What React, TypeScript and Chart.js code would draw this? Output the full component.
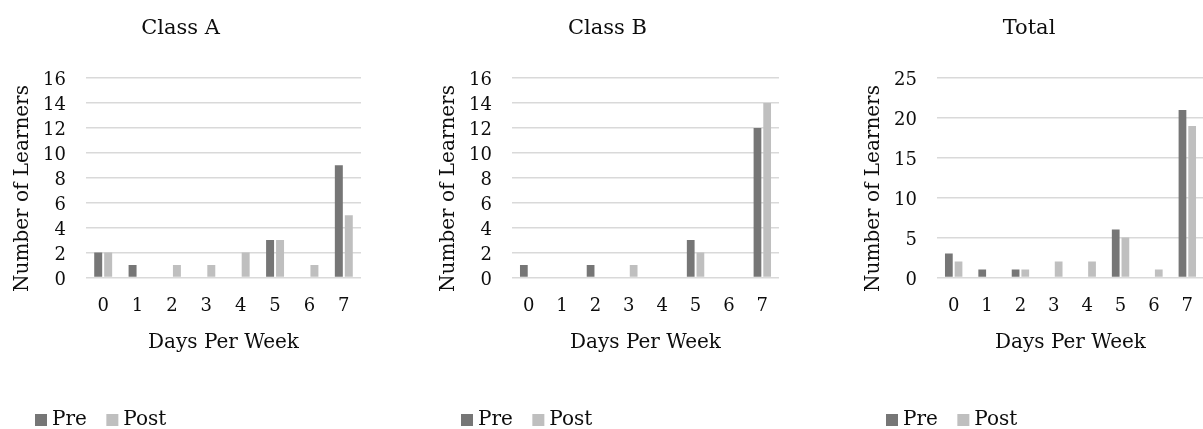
import React, { useEffect, useRef } from 'react';
import { Chart, registerables } from 'chart.js';

Chart.register(...registerables);

// Days per week categories shared by all three panels
const days = ['0', '1', '2', '3', '4', '5', '6', '7'];

// Learner counts per panel
const classAPre = [2, 1, 0, 0, 0, 3, 0, 9];
const classAPost = [2, 0, 1, 1, 2, 3, 1, 5];
const classBPre = [1, 0, 1, 0, 0, 3, 0, 12];
const classBPost = [0, 0, 0, 1, 0, 2, 0, 14];
const totalPre = [3, 1, 1, 0, 0, 6, 0, 21];
const totalPost = [2, 0, 1, 2, 2, 5, 1, 19];

const seriesNames = ['Pre', 'Post'];
const yAxisTitle = 'Number of Learners';
const xAxisTitle = 'Days Per Week';

const FONT = "'DejaVu Serif', serif";
const TEXT = '#0d0d0d';
const PRE_COLOR = '#767676';
const POST_COLOR = '#bfbfbf';
const GRID_COLOR = '#d9d9d9';

// Draws the panel heading and the rotated y-axis caption relative to the plot area
const panelText = {
  id: 'panelText',
  afterDraw(chart: any, _args: any, opts: any) {
    const { ctx, chartArea } = chart;
    ctx.save();
    ctx.fillStyle = TEXT;
    ctx.textAlign = 'center';
    ctx.textBaseline = 'alphabetic';
    ctx.font = `21px ${FONT}`;
    ctx.fillText(opts.title, chartArea.left + opts.titleOffset, 34);
    ctx.translate(chartArea.left - 58, chartArea.top + 110.5);
    ctx.rotate(-Math.PI / 2);
    ctx.font = `20px ${FONT}`;
    ctx.fillText(opts.yTitle, 0, 0);
    ctx.restore();
  },
};

type PanelProps = {
  title: string;
  pre: number[];
  post: number[];
  max: number;
  step: number;
  left: number;
  width: number;
  titleOffset: number;
};

function Panel({ title, pre, post, max, step, left, width, titleOffset }: PanelProps) {
  const ref = useRef<HTMLCanvasElement | null>(null);

  useEffect(() => {
    if (!ref.current) return;
    const chart = new Chart(ref.current, {
      type: 'bar',
      data: {
        labels: days,
        datasets: [
          {
            label: seriesNames[0],
            data: pre,
            backgroundColor: PRE_COLOR,
            borderColor: PRE_COLOR,
            borderWidth: 0,
            categoryPercentage: 0.58,
            barPercentage: 0.8,
          },
          {
            label: seriesNames[1],
            data: post,
            backgroundColor: POST_COLOR,
            borderColor: POST_COLOR,
            borderWidth: 0,
            categoryPercentage: 0.58,
            barPercentage: 0.8,
          },
        ],
      },
      options: {
        responsive: false,
        animation: false,
        devicePixelRatio: 1,
        layout: { padding: { left: 15.5, top: 78, right: 0, bottom: 0 } },
        scales: {
          x: {
            // invisible tick marks push the day labels down without adding side padding
            grid: { display: false, drawTicks: true, tickLength: 18.5 },
            border: { display: false },
            ticks: {
              color: TEXT,
              padding: 0,
              maxRotation: 0,
              autoSkip: false,
              font: { family: FONT, size: 18, lineHeight: 1.2 },
            },
            title: {
              display: true,
              text: xAxisTitle,
              color: TEXT,
              font: { family: FONT, size: 20, lineHeight: 1.2 },
              padding: { top: 0, bottom: 31 },
            },
            afterFit: (scale: any) => {
              scale.height = 108;
            },
          },
          y: {
            min: 0,
            max,
            grid: { color: GRID_COLOR, lineWidth: 1.5, drawTicks: false },
            border: { display: false },
            ticks: {
              stepSize: step,
              color: TEXT,
              padding: 20,
              labelOffset: 2.5,
              font: { family: FONT, size: 18, lineHeight: 1.2 },
            },
            afterFit: (scale: any) => {
              scale.width = 70.5;
            },
          },
        },
        plugins: {
          title: { display: false },
          tooltip: { enabled: false },
          legend: {
            display: true,
            position: 'bottom',
            align: 'start',
            labels: {
              usePointStyle: true,
              pointStyle: 'rect',
              boxWidth: 2,
              boxHeight: 12,
              padding: 24.5,
              color: TEXT,
              font: { family: FONT, size: 20 },
            },
          },
          panelText: { title, titleOffset, yTitle: yAxisTitle },
        } as any,
      },
      plugins: [panelText],
    });
    return () => chart.destroy();
  }, [title, pre, post, max, step, titleOffset]);

  return (
    <canvas
      ref={ref}
      width={width}
      height={440}
      style={{ position: 'absolute', left, top: 0, width, height: 440 }}
    />
  );
}

export default function App() {
  return (
    <div
      style={{
        position: 'absolute',
        left: 0,
        top: 0,
        width: 1203,
        height: 429,
        overflow: 'hidden',
        background: '#ffffff',
      }}
    >
      <Panel title="Class A" pre={classAPre} post={classAPost} max={16} step={2} left={0} width={361} titleOffset={94.5} />
      <Panel title="Class B" pre={classBPre} post={classBPost} max={16} step={2} left={426} width={353} titleOffset={95.5} />
      <Panel title="Total" pre={totalPre} post={totalPost} max={25} step={5} left={851} width={353} titleOffset={92} />
    </div>
  );
}
